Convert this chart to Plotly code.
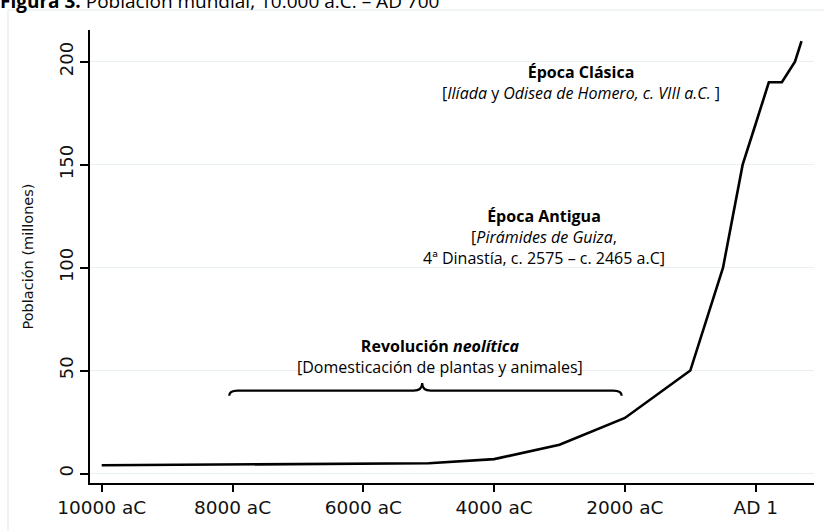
import plotly.graph_objects as go

# ---- data ----
years = [-10000, -5000, -4000, -3000, -2000, -1000, -500, -200, 1, 200, 400, 600, 700]
population = [4, 5, 7, 14, 27, 50, 100, 150, 170, 190, 190, 200, 210]

x_tickvals = [-10000, -8000, -6000, -4000, -2000, 1]
x_ticktext = ["10000 aC", "8000 aC", "6000 aC", "4000 aC", "2000 aC", "AD 1"]
y_tickvals = [0, 50, 100, 150, 200]
y_ticktext = ["0", "50", "100", "150", "200"]

brace_years = [-8050, -5100, -2050]   # start, tip, end
brace_levels = [37.8, 40.3, 44.0]     # end, line, tip

title_text = "<b>Figura 3.</b> Población mundial, 10.000 a.C. – AD 700"

neo_lines = ["<b>Revolución <i>neolítica</i></b>", "[Domesticación de plantas y animales]"]
ant_lines = ["<b>Época Antigua</b>", "[<i>Pirámides de Guiza</i>,", "4ª Dinastía, c. 2575 – c. 2465 a.C]"]
cla_lines = ["<b>Época Clásica</b>", "[<i>Ilíada</i> y <i>Odisea de Homero, c. VIII a.C.</i> ]"]

# ---- figure ----
fig = go.Figure()
fig.add_trace(go.Scatter(x=years, y=population, mode="lines",
                         line=dict(color="black", width=2.6), hoverinfo="skip"))

W, H = 824, 531
L, R, T, B = 90, 10, 30, 47.5
pw, ph = W - L - R, H - T - B

def px_to_paper_x(px):
    return (px - L) / pw

def px_to_paper_y(py):
    return (H - B - py) / ph

# brace path in data coordinates
x0, xt, x1 = brace_years
ye, ym, yt = brace_levels
dx = 130
path = (f"M {x0},{ye} Q {x0},{ym} {x0+dx},{ym} L {xt-dx},{ym} Q {xt},{ym} {xt},{yt} "
        f"Q {xt},{ym} {xt+dx},{ym} L {x1-dx},{ym} Q {x1},{ym} {x1},{ye}")
fig.add_shape(type="path", path=path, xref="x", yref="y",
              line=dict(color="black", width=2.2))

# outer frame (light)
fig.add_shape(type="rect", xref="paper", yref="paper",
              x0=px_to_paper_x(8), x1=px_to_paper_x(840),
              y0=px_to_paper_y(545), y1=px_to_paper_y(10),
              line=dict(color="#e3ecee", width=1.2), layer="below")

afont = dict(family="Open Sans, sans-serif", size=16, color="black")
fig.add_annotation(x=-4827, y=57.0, text="<br>".join(neo_lines), showarrow=False,
                   font=afont, xanchor="center", yanchor="middle", align="center")
fig.add_annotation(x=-3230, y=115.1, text="<br>".join(ant_lines), showarrow=False,
                   font=afont, xanchor="center", yanchor="middle", align="center")
fig.add_annotation(x=-2667, y=190.0, text="<br>".join(cla_lines), showarrow=False,
                   font=afont, xanchor="center", yanchor="middle", align="center")

fig.add_annotation(xref="paper", yref="paper", x=px_to_paper_x(-2), y=px_to_paper_y(16),
                   text=title_text, showarrow=False, xanchor="left", yanchor="bottom",
                   font=dict(family="Open Sans, sans-serif", size=19, color="black"))

fig.update_layout(
    width=W, height=H,
    margin=dict(l=L, r=R, t=T, b=B),
    paper_bgcolor="white", plot_bgcolor="white",
    showlegend=False,
    font=dict(family="DejaVu Sans", color="black"),
    xaxis=dict(range=[-10179, 891], tickvals=x_tickvals, ticktext=x_ticktext,
               showgrid=False, zeroline=False, showline=True, linecolor="black",
               linewidth=2, ticks="outside", ticklen=7, tickwidth=2, tickcolor="black",
               automargin=False,
               tickfont=dict(family="DejaVu Sans", size=18.5, color="#111111")),
    yaxis=dict(range=[-4.6, 215.4], tickvals=y_tickvals, ticktext=y_ticktext,
               showgrid=True, gridcolor="#e8f0f1", gridwidth=1.2, zeroline=False,
               showline=True, linecolor="black", linewidth=2,
               ticks="outside", ticklen=8, tickwidth=2, tickcolor="black",
               tickangle=-90, automargin=False,
               tickfont=dict(family="DejaVu Sans", size=18, color="#111111"),
               title=dict(text="Población (millones)", standoff=19,
                          font=dict(family="DejaVu Sans", size=14.5, color="#111111"))),
)

fig.write_html("out.html", config={"displayModeBar": False},
               post_script="document.body.style.margin='0px';document.body.style.padding='0px';")
